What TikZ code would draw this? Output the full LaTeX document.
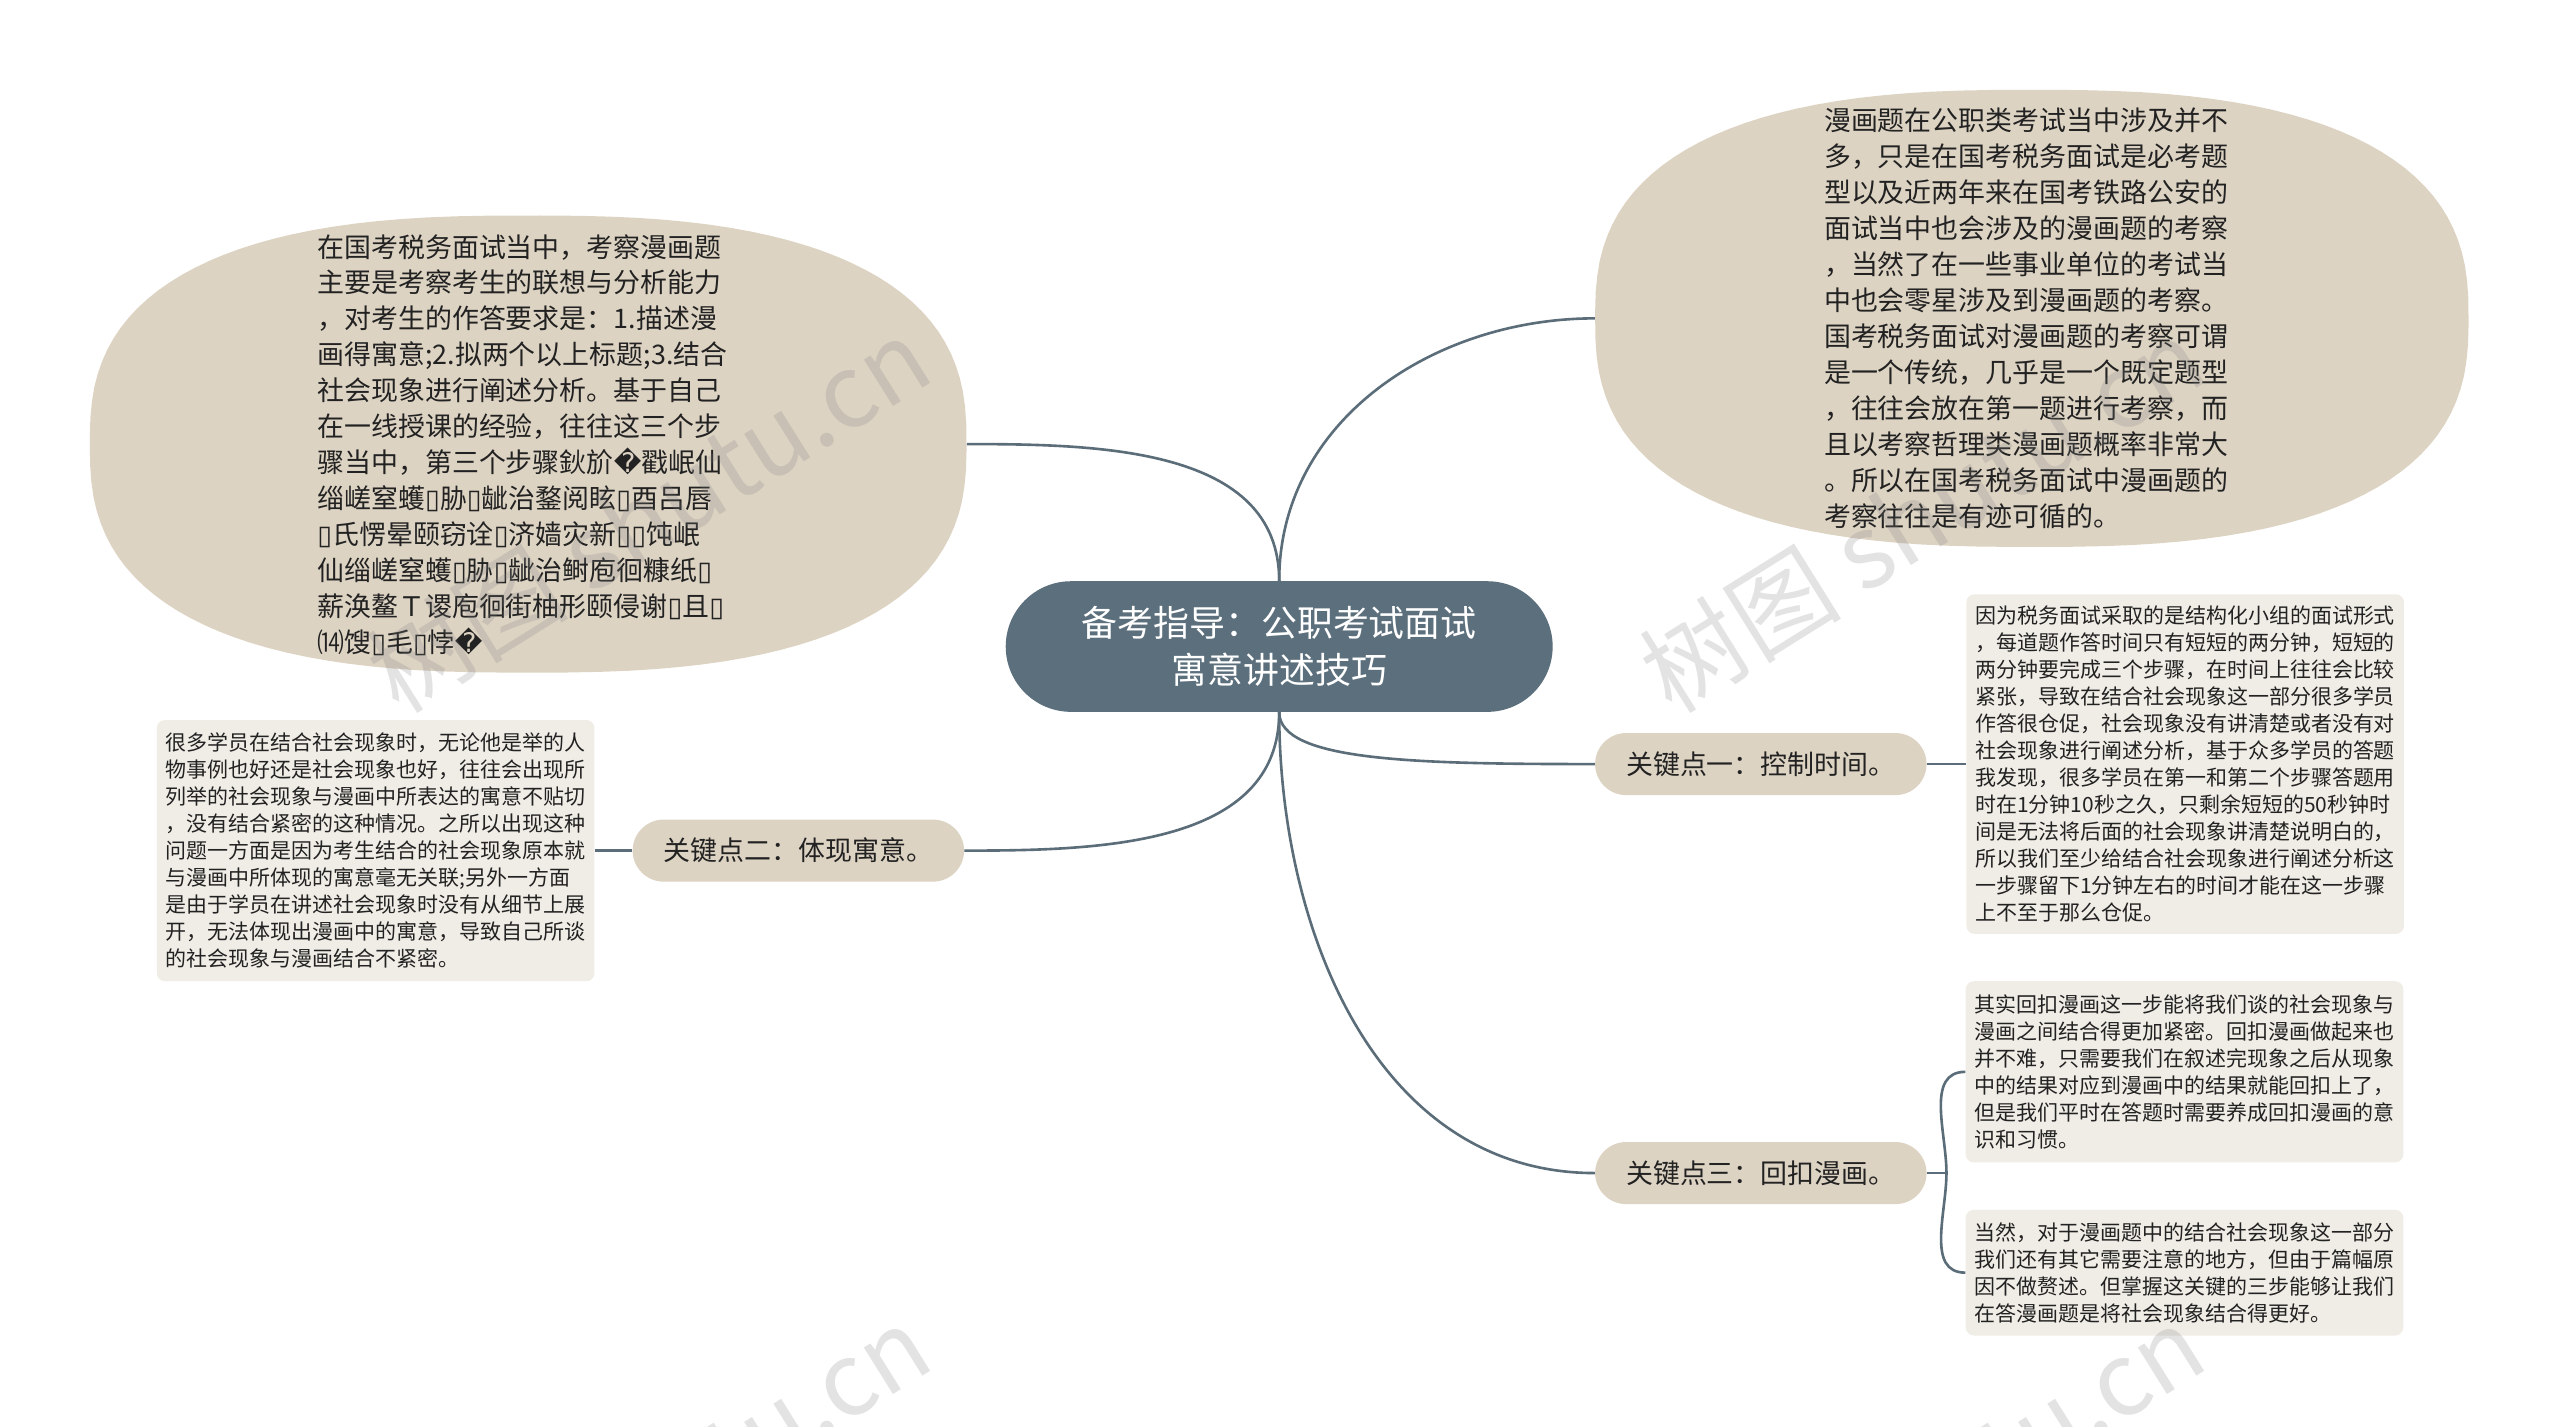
\documentclass[tikz,border=0pt]{standalone}
\usepackage{fontspec}
\setmainfont{Noto Sans CJK SC}
\newfontfamily\boxfont{DejaVu Sans}
\usetikzlibrary{positioning}

\newcommand{\tofu}{{\boxfont ▯}}
\newcommand{\badchar}{{\boxfont �}}

\begin{document}
\begin{tikzpicture}
    [x=1pt, y=-1pt,
    % Styles
    linkline/.style={draw=linecolor, line width=1.6pt},
    rootbox/.style={fill=titlecolor, text=white, rounded corners=40pt,
      minimum width=335pt, minimum height=80pt, align=center,
      font=\fontsize{22pt}{29pt}\selectfont},
    bubblebox/.style={inner sep=0pt},
    bubbletext/.style={align=left, text=textcolor, inner sep=0pt,
      font=\fontsize{16.5pt}{22pt}\selectfont},
    keybox/.style={fill=bubblecolor, text=textcolor, rounded corners=19pt,
      minimum width=203pt, minimum height=38pt,
      font=\fontsize{16.5pt}{22pt}\selectfont},
    leafbox/.style={fill=leafcolor, text=textcolor, rounded corners=5pt,
      align=left, inner xsep=5.5pt, minimum width=268pt,
      font=\fontsize{12.85pt}{16.5pt}\selectfont},
    shutumark/.style={text=gray, opacity=0.22, rotate=32,
      font=\fontsize{62pt}{62pt}\selectfont}]

    % Colors
    \definecolor{linecolor}{HTML}{5B6D79}
    \definecolor{titlecolor}{HTML}{5B6F7C}
    \definecolor{bubblecolor}{HTML}{DDD3C3}
    \definecolor{leafcolor}{HTML}{F0EDE6}
    \definecolor{textcolor}{HTML}{222222}

    % Canvas
    \fill[white] (0,0) rectangle (1568,874);
    \useasboundingbox (0,0) rectangle (1568,874);

    % Root
    \node[rootbox] (root) at (783.5,396) {备考指导：公职考试面试\\寓意讲述技巧};

    % Bubbles (superellipse, n=2.6)
    \node[bubblebox, minimum width=537pt, minimum height=280pt] (intro) at (323.5,272) {};
    \fill[bubblecolor, shift={(intro.center)}]
      plot[domain=0.5:360.5, samples=121, variable=\t]
      ({268.5*sign(cos(\t))*abs(cos(\t))^(0.77)}, {140*sign(sin(\t))*abs(sin(\t))^(0.77)}) -- cycle;
    \node[bubbletext] (introtext) at (320,272.5) {在国考税务面试当中，考察漫画题\\
      主要是考察考生的联想与分析能力\\
      ，对考生的作答要求是：1.描述漫\\
      画得寓意;2.拟两个以上标题;3.结合\\
      社会现象进行阐述分析。基于自己\\
      在一线授课的经验，往往这三个步\\
      骤当中，第三个步骤鈥斺\badchar 戳岷仙\\
      缁嵯窒蠖\tofu 胁\tofu 龇治鍪阅眩\tofu 酉吕唇\\
      \tofu 氏愣晕颐窃诠\tofu 济嫱灾新\tofu\tofu 饨岷\\
      仙缁嵯窒蠖\tofu 胁\tofu 龇治鲥庖徊糠纸\tofu\\
      薪涣鳌Ｔ谡庖徊街柚形颐侵谢\tofu 且\tofu\\
      ⒁馊\tofu 毛\tofu 悖\badchar};
    \node[bubblebox, minimum width=535pt, minimum height=280pt] (exam) at (1244.5,195) {};
    \fill[bubblecolor, shift={(exam.center)}]
      plot[domain=0.5:360.5, samples=121, variable=\t]
      ({267.5*sign(cos(\t))*abs(cos(\t))^(0.77)}, {140*sign(sin(\t))*abs(sin(\t))^(0.77)}) -- cycle;
    \node[bubbletext] (examtext) at (1241,195) {漫画题在公职类考试当中涉及并不\\
      多，只是在国考税务面试是必考题\\
      型以及近两年来在国考铁路公安的\\
      面试当中也会涉及的漫画题的考察\\
      ，当然了在一些事业单位的考试当\\
      中也会零星涉及到漫画题的考察。\\
      国考税务面试对漫画题的考察可谓\\
      是一个传统，几乎是一个既定题型\\
      ，往往会放在第一题进行考察，而\\
      且以考察哲理类漫画题概率非常大\\
      。所以在国考税务面试中漫画题的\\
      考察往往是有迹可循的。};

    % Key points
    \node[keybox] (time) at (1078.5,468) {关键点一：控制时间。};
    \node[keybox] (meaning) at (489,521) {关键点二：体现寓意。};
    \node[keybox] (callback) at (1078.5,718.5) {关键点三：回扣漫画。};

    % Notes
    \node[leafbox, minimum height=208pt, right=24pt of time] (timenote) {因为税务面试采取的是结构化小组的面试形式\\
      ，每道题作答时间只有短短的两分钟，短短的\\
      两分钟要完成三个步骤，在时间上往往会比较\\
      紧张，导致在结合社会现象这一部分很多学员\\
      作答很仓促，社会现象没有讲清楚或者没有对\\
      社会现象进行阐述分析，基于众多学员的答题\\
      我发现，很多学员在第一和第二个步骤答题用\\
      时在1分钟10秒之久，只剩余短短的50秒钟时\\
      间是无法将后面的社会现象讲清楚说明白的，\\
      所以我们至少给结合社会现象进行阐述分析这\\
      一步骤留下1分钟左右的时间才能在这一步骤\\
      上不至于那么仓促。};
    \node[leafbox, minimum height=160pt, left=23pt of meaning] (meaningnote) {很多学员在结合社会现象时，无论他是举的人\\
      物事例也好还是社会现象也好，往往会出现所\\
      列举的社会现象与漫画中所表达的寓意不贴切\\
      ，没有结合紧密的这种情况。之所以出现这种\\
      问题一方面是因为考生结合的社会现象原本就\\
      与漫画中所体现的寓意毫无关联;另外一方面\\
      是由于学员在讲述社会现象时没有从细节上展\\
      开，无法体现出漫画中的寓意，导致自己所谈\\
      的社会现象与漫画结合不紧密。};
    \node[leafbox, minimum height=111pt] (callbacknote) at (1338,656.5) {其实回扣漫画这一步能将我们谈的社会现象与\\
      漫画之间结合得更加紧密。回扣漫画做起来也\\
      并不难，只需要我们在叙述完现象之后从现象\\
      中的结果对应到漫画中的结果就能回扣上了，\\
      但是我们平时在答题时需要养成回扣漫画的意\\
      识和习惯。};
    \node[leafbox, minimum height=77pt] (summarynote) at (1338,779.5) {当然，对于漫画题中的结合社会现象这一部分\\
      我们还有其它需要注意的地方，但由于篇幅原\\
      因不做赘述。但掌握这关键的三步能够让我们\\
      在答漫画题是将社会现象结合得更好。};

    % Links
    \draw[linkline] (root.north) to[out=90,in=0] (intro.east);
    \draw[linkline] (root.north) to[out=90,in=180] (exam.west);
    \draw[linkline] (root.south) .. controls +(0,30) and +(-110,0) .. (time.west);
    \draw[linkline] (root.south) to[out=-90,in=180] (callback.west);
    \draw[linkline] (root.south) to[out=-90,in=0] (meaning.east);
    \draw[linkline] (time.east) -- (timenote.west);
    \draw[linkline] (meaning.west) -- (meaningnote.east);
    \coordinate[right=12pt of callback.east] (fork);
    \draw[linkline] (callback.east) -- (fork);
    \draw[linkline] (fork) to[out=90,in=180] (callbacknote.west);
    \draw[linkline] (fork) to[out=-90,in=180] (summarynote.west);

    % Watermarks
    \node[shutumark] (markA) at (397,315) {树图 shutu.cn};
    \node[shutumark] (markB) at (1177,315) {树图 shutu.cn};
    \node[shutumark] (markC) at (397,920) {树图 shutu.cn};
    \node[shutumark] (markD) at (1177,920) {树图 shutu.cn};
\end{tikzpicture}
\end{document}
